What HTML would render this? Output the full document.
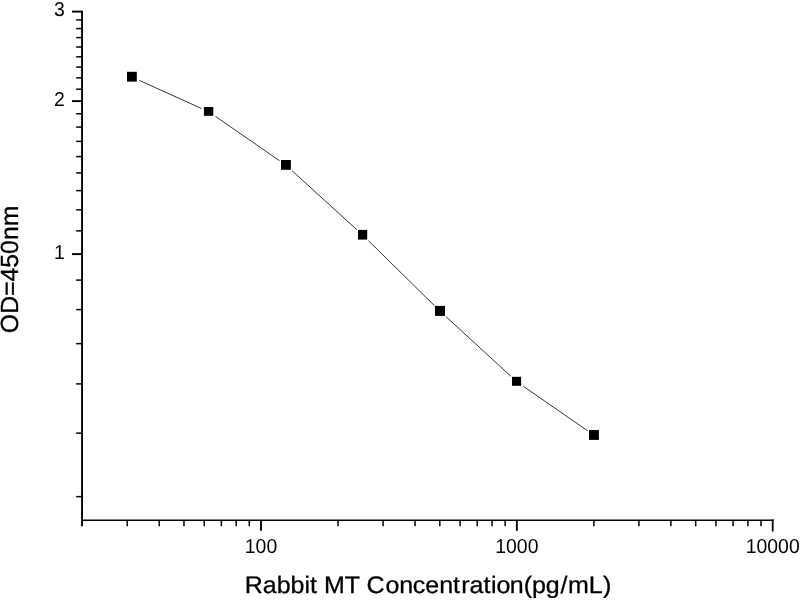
<!DOCTYPE html>
<html lang="en">
<head>
<meta charset="utf-8">
<title>Rabbit MT standard curve</title>
<style>
html,body{margin:0;padding:0;background:#fff;}
body{width:800px;height:600px;overflow:hidden;}
svg{display:block;will-change:transform;filter:grayscale(1);font-family:"Liberation Sans",Arial,sans-serif;text-rendering:geometricPrecision;}
</style>
</head>
<body>
<svg width="800" height="600" viewBox="0 0 800 600" stroke="#000" fill="none">
<rect x="0" y="0" width="800" height="600" fill="#fff" stroke="none"/>
<line x1="82.05" y1="10.70" x2="82.05" y2="526.3" stroke-width="1.9"/>
<line x1="81.10" y1="520.2" x2="773.6" y2="520.2" stroke-width="1.6"/>
<line x1="76.2" y1="496.64" x2="82.05" y2="496.64" stroke-width="1.5"/>
<line x1="76.2" y1="433.14" x2="82.05" y2="433.14" stroke-width="1.5"/>
<line x1="76.2" y1="383.88" x2="82.05" y2="383.88" stroke-width="1.5"/>
<line x1="76.2" y1="343.63" x2="82.05" y2="343.63" stroke-width="1.5"/>
<line x1="76.2" y1="309.60" x2="82.05" y2="309.60" stroke-width="1.5"/>
<line x1="76.2" y1="280.12" x2="82.05" y2="280.12" stroke-width="1.5"/>
<line x1="72" y1="254.12" x2="82.05" y2="254.12" stroke-width="1.9"/>
<line x1="76.2" y1="230.86" x2="82.05" y2="230.86" stroke-width="1.5"/>
<line x1="76.2" y1="209.82" x2="82.05" y2="209.82" stroke-width="1.5"/>
<line x1="76.2" y1="190.61" x2="82.05" y2="190.61" stroke-width="1.5"/>
<line x1="76.2" y1="172.94" x2="82.05" y2="172.94" stroke-width="1.5"/>
<line x1="76.2" y1="156.59" x2="82.05" y2="156.59" stroke-width="1.5"/>
<line x1="76.2" y1="141.36" x2="82.05" y2="141.36" stroke-width="1.5"/>
<line x1="76.2" y1="127.11" x2="82.05" y2="127.11" stroke-width="1.5"/>
<line x1="76.2" y1="113.73" x2="82.05" y2="113.73" stroke-width="1.5"/>
<line x1="72" y1="101.11" x2="82.05" y2="101.11" stroke-width="1.9"/>
<line x1="76.2" y1="89.17" x2="82.05" y2="89.17" stroke-width="1.5"/>
<line x1="76.2" y1="77.85" x2="82.05" y2="77.85" stroke-width="1.5"/>
<line x1="76.2" y1="67.08" x2="82.05" y2="67.08" stroke-width="1.5"/>
<line x1="76.2" y1="56.81" x2="82.05" y2="56.81" stroke-width="1.5"/>
<line x1="76.2" y1="47.00" x2="82.05" y2="47.00" stroke-width="1.5"/>
<line x1="76.2" y1="37.60" x2="82.05" y2="37.60" stroke-width="1.5"/>
<line x1="76.2" y1="28.59" x2="82.05" y2="28.59" stroke-width="1.5"/>
<line x1="76.2" y1="19.93" x2="82.05" y2="19.93" stroke-width="1.5"/>
<line x1="72" y1="11.60" x2="82.05" y2="11.60" stroke-width="1.9"/>
<line x1="127.22" y1="520.2" x2="127.22" y2="526.3" stroke-width="1.5"/>
<line x1="159.19" y1="520.2" x2="159.19" y2="526.3" stroke-width="1.5"/>
<line x1="183.98" y1="520.2" x2="183.98" y2="526.3" stroke-width="1.5"/>
<line x1="204.24" y1="520.2" x2="204.24" y2="526.3" stroke-width="1.5"/>
<line x1="221.37" y1="520.2" x2="221.37" y2="526.3" stroke-width="1.5"/>
<line x1="236.21" y1="520.2" x2="236.21" y2="526.3" stroke-width="1.5"/>
<line x1="249.29" y1="520.2" x2="249.29" y2="526.3" stroke-width="1.5"/>
<line x1="261.00" y1="520.2" x2="261.00" y2="530.8" stroke-width="1.9"/>
<line x1="338.02" y1="520.2" x2="338.02" y2="526.3" stroke-width="1.5"/>
<line x1="383.07" y1="520.2" x2="383.07" y2="526.3" stroke-width="1.5"/>
<line x1="415.04" y1="520.2" x2="415.04" y2="526.3" stroke-width="1.5"/>
<line x1="439.83" y1="520.2" x2="439.83" y2="526.3" stroke-width="1.5"/>
<line x1="460.09" y1="520.2" x2="460.09" y2="526.3" stroke-width="1.5"/>
<line x1="477.22" y1="520.2" x2="477.22" y2="526.3" stroke-width="1.5"/>
<line x1="492.06" y1="520.2" x2="492.06" y2="526.3" stroke-width="1.5"/>
<line x1="505.14" y1="520.2" x2="505.14" y2="526.3" stroke-width="1.5"/>
<line x1="516.85" y1="520.2" x2="516.85" y2="530.8" stroke-width="1.9"/>
<line x1="593.87" y1="520.2" x2="593.87" y2="526.3" stroke-width="1.5"/>
<line x1="638.92" y1="520.2" x2="638.92" y2="526.3" stroke-width="1.5"/>
<line x1="670.89" y1="520.2" x2="670.89" y2="526.3" stroke-width="1.5"/>
<line x1="695.68" y1="520.2" x2="695.68" y2="526.3" stroke-width="1.5"/>
<line x1="715.94" y1="520.2" x2="715.94" y2="526.3" stroke-width="1.5"/>
<line x1="733.07" y1="520.2" x2="733.07" y2="526.3" stroke-width="1.5"/>
<line x1="747.91" y1="520.2" x2="747.91" y2="526.3" stroke-width="1.5"/>
<line x1="760.99" y1="520.2" x2="760.99" y2="526.3" stroke-width="1.5"/>
<line x1="772.70" y1="519.40" x2="772.70" y2="531.5" stroke-width="1.8"/>
<line x1="139.39" y1="80.40" x2="201.51" y2="108.50" stroke="#000" stroke-width="0.8"/>
<line x1="215.38" y1="116.35" x2="279.57" y2="160.75" stroke="#000" stroke-width="0.8"/>
<line x1="292.06" y1="170.69" x2="356.89" y2="229.76" stroke="#000" stroke-width="0.8"/>
<line x1="368.50" y1="240.76" x2="434.50" y2="305.69" stroke="#000" stroke-width="0.8"/>
<line x1="446.09" y1="316.72" x2="510.86" y2="376.28" stroke="#000" stroke-width="0.8"/>
<line x1="523.32" y1="386.26" x2="587.58" y2="430.79" stroke="#000" stroke-width="0.8"/>
<rect x="127.00" y="71.80" width="9.80" height="9.80" fill="#000" stroke="none"/>
<rect x="203.90" y="107.00" width="9.40" height="8.80" fill="#000" stroke="none"/>
<rect x="281.00" y="160.00" width="9.90" height="9.80" fill="#000" stroke="none"/>
<rect x="358.00" y="229.90" width="9.20" height="9.70" fill="#000" stroke="none"/>
<rect x="435.00" y="305.90" width="10.00" height="10.00" fill="#000" stroke="none"/>
<rect x="512.00" y="376.80" width="9.10" height="9.00" fill="#000" stroke="none"/>
<rect x="589.00" y="430.00" width="9.90" height="9.90" fill="#000" stroke="none"/>
<text transform="translate(64.80,258.82) scale(1,1.04)" text-anchor="end" font-size="19.4" stroke="none" fill="#000">1</text>
<text transform="translate(64.80,105.81) scale(1,1.04)" text-anchor="end" font-size="19.4" stroke="none" fill="#000">2</text>
<text transform="translate(64.80,16.30) scale(1,1.04)" text-anchor="end" font-size="19.4" stroke="none" fill="#000">3</text>
<text transform="translate(261.00,552.50) scale(1,1.04)" text-anchor="middle" font-size="19.4" stroke="none" fill="#000">100</text>
<text transform="translate(516.85,552.50) scale(1,1.04)" text-anchor="middle" font-size="19.4" stroke="none" fill="#000">1000</text>
<text transform="translate(772.70,552.50) scale(1,1.04)" text-anchor="middle" font-size="19.4" stroke="none" fill="#000">10000</text>
<text transform="translate(244.75,592.5) scale(1,0.955)" text-anchor="start" font-size="25.0" stroke="#000" stroke-width="0.3" fill="#000">Rabbit MT C<tspan dx="0.8">o</tspan>n<tspan dx="-0.4">c</tspan>ent<tspan dx="1.2">r</tspan>at<tspan dx="0.4">i</tspan>o<tspan dx="-0.5">n</tspan><tspan dx="0.1">(</tspan><tspan dx="-0.3">p</tspan>g<tspan dx="0.7">/</tspan><tspan dx="0.7">m</tspan>L<tspan dx="0.1">)</tspan></text>
<text transform="translate(18.0,269.4) rotate(-90)" text-anchor="middle" font-size="24.8" stroke="#000" stroke-width="0.3" fill="#000">OD=450nm</text>
</svg>
</body>
</html>
